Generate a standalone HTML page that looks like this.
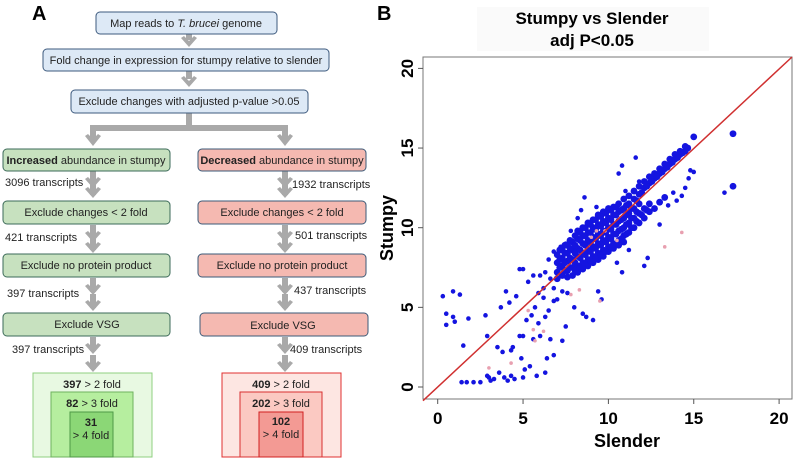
<!DOCTYPE html>
<html><head><meta charset="utf-8"><style>
body{margin:0;width:800px;height:460px;overflow:hidden;background:#fff;font-family:"Liberation Sans",Arial,sans-serif}
svg text{font-family:"Liberation Sans",Arial,sans-serif}
</style></head><body>
<svg id="fig" width="800" height="460" viewBox="0 0 800 460" xmlns="http://www.w3.org/2000/svg">
<defs>
<g id="arr"><rect x="-3" y="0" width="6" height="14" fill="#a9a9a9"/><path d="M-8,8 L0,17 L8,8 L5,6 L0,11 L-5,6Z" fill="#a9a9a9"/></g>
</defs>
<g>
<text x="32" y="20" font-size="20" font-weight="bold">A</text>
<g fill="#a9a9a9">
<rect x="186" y="34" width="6" height="6"/><path d="M181,38 L189,47 L197,38 L194,36 L189,41 L184,36Z"/>
<rect x="186" y="71" width="6" height="8"/><path d="M181,78 L189,87 L197,78 L194,76 L189,81 L184,76Z"/>
<rect x="186" y="113" width="6" height="16"/>
<rect x="90" y="125" width="198" height="6"/>
<rect x="90" y="125" width="6" height="14"/><path d="M85,136 L93,146 L101,136 L98,134 L93,139 L88,134Z"/>
<rect x="282" y="125" width="6" height="14"/><path d="M277,136 L285,146 L293,136 L290,134 L285,139 L280,134Z"/>
</g>
<g>
<use href="#arr" x="93" y="171"/><use href="#arr" x="93" y="181"/>
<use href="#arr" x="285" y="171"/><use href="#arr" x="285" y="181"/>
<use href="#arr" x="93" y="225"/><use href="#arr" x="93" y="236"/>
<use href="#arr" x="285" y="225"/><use href="#arr" x="285" y="236"/>
<use href="#arr" x="93" y="278"/><use href="#arr" x="93" y="294"/>
<use href="#arr" x="285" y="278"/><use href="#arr" x="285" y="294"/>
<use href="#arr" x="93" y="337"/><use href="#arr" x="93" y="355"/>
<use href="#arr" x="285" y="337"/><use href="#arr" x="285" y="355"/>
</g>
<g font-size="11" fill="#222" text-anchor="middle">
<rect x="96" y="12" width="181" height="22" rx="4" fill="#dde9f6" stroke="#3d5a7e"/>
<text x="186" y="27">Map reads to <tspan font-style="italic">T. brucei</tspan> genome</text>
<rect x="43" y="49" width="286" height="22" rx="4" fill="#dde9f6" stroke="#3d5a7e"/>
<text x="186" y="64">Fold change in expression for stumpy relative to slender</text>
<rect x="71" y="90" width="237" height="23" rx="4" fill="#dde9f6" stroke="#3d5a7e"/>
<text x="189" y="105">Exclude changes with adjusted p-value &gt;0.05</text>

<rect x="3" y="149" width="167" height="22" rx="4" fill="#c7e1bf" stroke="#3b6a58"/>
<text x="86" y="164"><tspan font-weight="bold">Increased</tspan> abundance in stumpy</text>
<rect x="198" y="149" width="168" height="22" rx="4" fill="#f5b9b1" stroke="#3b5a78"/>
<text x="282" y="164"><tspan font-weight="bold">Decreased</tspan> abundance in stumpy</text>

<rect x="3" y="201" width="167" height="23" rx="4" fill="#c7e1bf" stroke="#3b6a58"/>
<text x="86" y="216">Exclude changes &lt; 2 fold</text>
<rect x="198" y="201" width="168" height="23" rx="4" fill="#f5b9b1" stroke="#3b5a78"/>
<text x="282" y="216">Exclude changes &lt; 2 fold</text>

<rect x="3" y="254" width="167" height="23" rx="4" fill="#c7e1bf" stroke="#3b6a58"/>
<text x="86" y="269">Exclude no protein product</text>
<rect x="198" y="254" width="168" height="23" rx="4" fill="#f5b9b1" stroke="#3b5a78"/>
<text x="282" y="269">Exclude no protein product</text>

<rect x="3" y="313" width="167" height="23" rx="4" fill="#c7e1bf" stroke="#3b6a58"/>
<text x="87" y="328">Exclude VSG</text>
<rect x="200" y="313" width="168" height="23" rx="4" fill="#f5b9b1" stroke="#3b5a78"/>
<text x="283" y="329">Exclude VSG</text>
</g>
<g font-size="11" fill="#222">
<text x="5" y="186">3096 transcripts</text>
<text x="292" y="188">1932 transcripts</text>
<text x="5" y="241">421 transcripts</text>
<text x="295" y="239">501 transcripts</text>
<text x="7" y="297">397 transcripts</text>
<text x="294" y="294">437 transcripts</text>
<text x="12" y="353">397 transcripts</text>
<text x="290" y="353">409 transcripts</text>
</g>
<g font-size="11" fill="#222" text-anchor="middle">
<rect x="33" y="373" width="119" height="84" fill="#e8f9e2" stroke="#8fd080"/>
<rect x="51" y="392" width="82" height="65" fill="#b6ee9f" stroke="#6fb25f"/>
<rect x="70" y="412" width="43" height="45" fill="#8bd776" stroke="#4f9a47"/>
<text x="92" y="388"><tspan font-weight="bold">397</tspan> &gt; 2 fold</text>
<text x="92" y="407"><tspan font-weight="bold">82</tspan> &gt; 3 fold</text>
<text x="91" y="426" font-weight="bold">31</text>
<text x="91" y="439">&gt; 4 fold</text>
</g>
<g font-size="11" fill="#222" text-anchor="middle">
<rect x="222" y="373" width="119" height="84" fill="#fde6e2" stroke="#e03030"/>
<rect x="240" y="392" width="82" height="65" fill="#fbc9c2" stroke="#d83030"/>
<rect x="259" y="412" width="44" height="45" fill="#f39a94" stroke="#d02020"/>
<text x="281" y="388"><tspan font-weight="bold">409</tspan> &gt; 2 fold</text>
<text x="281" y="407"><tspan font-weight="bold">202</tspan> &gt; 3 fold</text>
<text x="281" y="425" font-weight="bold">102</text>
<text x="281" y="438">&gt; 4 fold</text>
</g>
</g>
<g>
<text x="377" y="20" font-size="20" font-weight="bold">B</text>
<rect x="477" y="7" width="232" height="44" fill="#fafafa"/>
<text x="592" y="24" font-size="17" font-weight="bold" text-anchor="middle">Stumpy vs Slender</text>
<text x="592" y="46" font-size="17" font-weight="bold" text-anchor="middle">adj P&lt;0.05</text>
<g id="plot"></g>
</g>
</svg>
<script>
const slender=[7.0,7.0,7.0,7.0,7.3,7.3,7.3,7.3,7.6,7.6,7.6,7.6,7.6,7.9,7.9,7.9,7.9,7.9,8.2,8.2,8.2,8.2,8.2,8.2,8.5,8.5,8.5,8.5,8.5,8.5,8.8,8.8,8.8,8.8,8.8,8.8,9.1,9.1,9.1,9.1,9.1,9.1,9.4,9.4,9.4,9.4,9.4,9.4,9.7,9.7,9.7,9.7,9.7,9.7,10.0,10.0,10.0,10.0,10.0,10.0,10.3,10.3,10.3,10.3,10.3,10.3,10.6,10.6,10.6,10.6,10.6,10.6,10.9,10.9,10.9,10.9,10.9,10.9,11.2,11.2,11.2,11.2,11.2,11.5,11.5,11.5,11.5,11.5,11.8,11.8,11.8,11.8,11.8,12.1,12.1,12.1,12.1,12.4,12.4,12.4,12.4,12.7,12.7,12.7,13.0,13.0,13.0,13.3,13.3,13.3,13.6,13.6,13.9,13.9,14.2,14.2,14.5,14.5,15.0,
7.15,7.15,7.15,7.45,7.45,7.45,7.45,7.75,7.75,7.75,7.75,8.05,8.05,8.05,8.05,8.05,8.35,8.35,8.35,8.35,8.35,8.65,8.65,8.65,8.65,8.65,8.95,8.95,8.95,8.95,8.95,9.25,9.25,9.25,9.25,9.25,9.55,9.55,9.55,9.55,9.55,9.85,9.85,9.85,9.85,9.85,10.15,10.15,10.15,10.15,10.15,10.45,10.45,10.45,10.45,10.45,10.75,10.75,10.75,10.75,11.05,11.05,11.05,11.05,11.35,11.35,11.35,11.65,11.65,11.65,11.95,11.95,12.25,12.25,12.55,12.85,13.15,13.45,13.75,14.05,14.35,14.65,
17.3,17.3,16.8,14.8,15.0,14.7,14.5,13.8,14.0,13.5,14.3,13.0,12.3,12.1,11.2,10.5,10.8,9.4,9.6,8.7,9.1,8.5,8.0,7.6,6.8,6.5,6.3,5.9,5.5,5.2,5.0,4.8,5.6,6.0,6.6,7.3,7.5,6.8,6.4,5.4,5.1,4.9,4.4,4.3,3.8,3.5,3.1,3.0,2.9,3.3,3.6,3.9,4.1,4.3,4.5,2.5,2.1,1.7,1.4,5.0,5.8,6.3,0.3,0.9,1.3,0.5,0.9,1.0,0.5,1.8,2.8,2.9,1.5,4.0,3.7,4.2,4.6,5.0,4.8,5.3,5.6,6.0,6.3,6.5,6.8,7.2,7.5,7.8,8.2,8.4,8.6,9.3,10.6,11.6,10.8,11.0,11.8,6.2,6.6,5.9,6.8,7.0,7.3,6.2,5.7];
const stumpy=[7.2,7.8,8.3,6.8,7.0,7.6,8.1,8.6,7.3,7.9,8.4,8.9,6.9,7.5,8.0,8.6,9.1,7.0,7.6,8.2,8.7,9.3,9.8,7.2,7.8,8.4,9.0,9.5,10.0,7.4,8.0,8.6,9.2,9.7,10.3,7.6,8.2,8.8,9.4,10.0,10.5,7.8,8.4,9.0,9.6,10.2,10.8,8.0,8.6,9.2,9.8,10.4,11.0,8.2,8.8,9.4,10.0,10.6,11.2,8.5,9.0,9.6,10.2,10.8,11.3,8.7,9.2,9.8,10.4,11.0,11.5,8.9,9.5,10.0,10.6,11.2,11.8,9.1,9.7,10.3,10.9,11.5,12.0,10.0,10.6,11.2,11.8,12.3,10.3,10.9,11.5,12.1,12.6,10.6,11.2,12.5,12.9,11.0,11.5,12.8,13.2,11.2,13.1,13.4,11.6,13.4,13.7,11.9,13.7,14.0,14.0,14.3,14.3,14.6,14.6,14.8,14.8,15.1,15.7,
7.5,8.0,8.6,7.3,7.8,8.4,8.9,7.5,8.1,8.7,9.2,7.3,7.8,8.4,8.9,9.5,7.5,8.1,8.6,9.2,9.7,7.7,8.3,8.9,9.5,10.0,7.9,8.5,9.1,9.7,10.2,8.1,8.7,9.3,9.9,10.5,8.3,8.9,9.5,10.1,10.7,8.5,9.1,9.7,10.3,10.9,8.8,9.3,9.9,10.5,11.1,9.0,9.6,10.2,10.8,11.3,9.3,9.9,10.5,11.1,9.6,10.2,10.8,11.4,10.0,10.6,11.2,10.4,11.0,11.7,10.8,12.2,11.1,12.6,12.9,13.2,13.5,13.8,14.1,14.4,14.7,15.0,
15.9,12.6,12.2,13.6,13.5,13.1,12.5,12.2,11.7,11.4,12.0,10.2,8.1,7.6,8.6,7.8,7.2,6.0,5.5,4.4,4.2,4.6,5.0,5.9,5.4,4.8,4.4,4.0,4.5,4.2,3.2,3.2,3.0,3.2,3.0,2.9,3.8,2.0,1.8,1.3,1.1,1.8,2.5,2.3,2.2,2.5,0.4,0.6,0.7,0.5,0.9,0.6,0.4,0.7,0.5,0.3,0.3,0.3,0.3,0.6,0.7,0.9,5.7,6.0,5.8,4.6,4.4,4.1,3.9,4.3,4.5,3.2,2.6,6.0,5.0,5.3,5.7,7.4,7.4,6.6,7.0,7.0,7.2,8.0,8.5,8.8,9.0,9.8,10.6,11.1,11.9,11.3,13.4,14.4,13.9,12.3,12.9,6.2,6.8,5.9,6.2,5.5,6.0,5.6,5.0];
const coreCount=203;
const pinkSlender=[9.3,9.8,7.8,8.3,9.5,14.3,13.3,5.6,5.7,6.2,4.3,3.0,10.5,9.0,5.3];
const pinkStumpy=[9.8,9.8,5.8,6.1,5.4,9.7,8.8,3.6,2.9,3.5,1.5,1.2,9.2,9.4,4.8];
const ticks=[0,5,10,15,20];
const NS='http://www.w3.org/2000/svg';
const sx=v=>437.7+v*17.07;
const sy=v=>387+(v)*(-15.93);
const plot=document.getElementById('plot');
function mk(t,a,p){const e=document.createElementNS(NS,t);for(const k in a)e.setAttribute(k,a[k]);(p||plot).appendChild(e);return e;}
const frame=mk('rect',{x:423,y:57,width:369,height:342,fill:'#fff',stroke:'#777','stroke-width':1});


ticks.forEach(t=>{
  const tx=mk('line',{x1:sx(t),x2:sx(t),y1:399,y2:404,stroke:'#555'});
  
  
  const lx=mk('text',{x:sx(t),y:424,'font-size':17,'font-weight':'bold','text-anchor':'middle'});
  lx.textContent=t;
  
  
  const ty=mk('line',{x1:418,x2:423,y1:sy(t),y2:sy(t),stroke:'#555'});
  
  
  const ly=mk('text',{x:0,y:0,'font-size':17,'font-weight':'bold','text-anchor':'middle',transform:'translate(413,'+sy(t)+') rotate(-90)'});
  ly.textContent=t;
  
  
});
const xt=mk('text',{x:627,y:447,'font-size':18,'font-weight':'bold','text-anchor':'middle'});
xt.textContent='Slender';


const yt=mk('text',{x:0,y:0,'font-size':18,'font-weight':'bold','text-anchor':'middle',transform:'translate(393,228) rotate(-90)'});
yt.textContent='Stumpy';


const pts=mk('g',{});


slender.forEach((v,i)=>{
  const c=mk('circle',{cx:sx(v),cy:sy(stumpy[i]),r:i<coreCount?3.4:2.3,fill:'#1414e0'},pts);
  
  
});
pinkSlender.forEach((v,i)=>{
  const c=mk('circle',{cx:sx(v),cy:sy(pinkStumpy[i]),r:1.8,fill:'#e8a0b0'},pts);
  
  
});
const x0=(423-437.7)/17.07, x1=(792-437.7)/17.07;
const diag=mk('line',{x1:423,y1:sy(x0),x2:792,y2:Math.max(57,sy(x1)),stroke:'#d03030','stroke-width':1.5});


</script>
</body></html>
